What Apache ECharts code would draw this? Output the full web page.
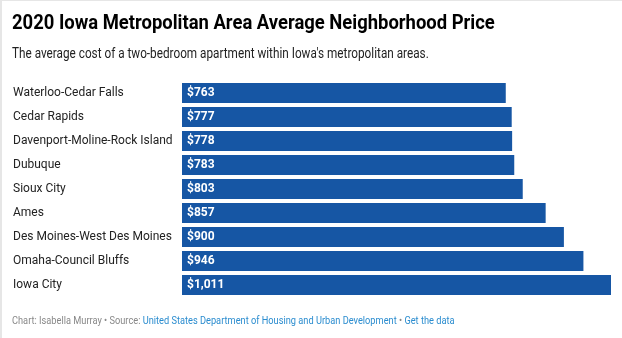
<!DOCTYPE html>
<html><head><meta charset="utf-8">
<script src="https://cdn.jsdelivr.net/npm/echarts@6/dist/echarts.min.js"></script>
<style>
html,body{margin:0;padding:0;background:#fff;}
#wrap{position:absolute;left:0;top:0;width:620px;height:337px;border-left:2px solid #e6e6e6;border-top:1px solid #e6e6e6;}
#c{width:620px;height:337px;}
</style></head>
<body><div id="wrap"><div id="c"></div></div>
<script>
const categories = ["Waterloo-Cedar Falls","Cedar Rapids","Davenport-Moline-Rock Island","Dubuque","Sioux City","Ames","Des Moines-West Des Moines","Omaha-Council Bluffs","Iowa City"];
const prices = [763,777,778,783,803,857,900,946,1011];

const titleText = '2020 Iowa Metropolitan Area Average Neighborhood Price';
const subtitleText = "The average cost of a two-bedroom apartment within Iowa's metropolitan areas.";

const chart = echarts.init(document.getElementById('c'), null, {renderer:'canvas'});
const font = 'Roboto, "Noto Sans", sans-serif';
chart.setOption({
  animation:false,
  textStyle:{fontFamily:font},
  graphic:[
    {type:'text', x:10, y:12, scaleX:0.878, style:{text:titleText, font:'bold 21px '+font, fill:'#000', verticalAlign:'top'}},
    {type:'text', x:10, y:46, scaleX:0.84, style:{text:subtitleText, font:'14px '+font, fill:'#222', verticalAlign:'top'}},
    {type:'text', x:10, y:315, scaleX:0.84, style:{
      text:'{g|Chart: Isabella Murray • Source: }{b|United States Department of Housing and Urban Development}{g| • }{b|Get the data}',
      verticalAlign:'top',
      rich:{
       g:{fontFamily:font,fontSize:11,fontWeight:'normal',fill:'#888'},
       b:{fontFamily:font,fontSize:11,fontWeight:'normal',fill:'#2a8ccf'}}}}
  ],
  grid:{left:180, top:80, width:429, height:216, containLabel:false},
  xAxis:{type:'value', min:0, max:1011, show:false},
  yAxis:{type:'category', data:categories, inverse:true,
    axisLine:{show:false}, axisTick:{show:false},
    axisLabel:{align:'left', margin:169, fontFamily:font, fontSize:12, color:'#222'}},
  series:[{type:'bar', data:prices, barWidth:20, itemStyle:{color:'#1656a4'},
    label:{show:true, position:'insideLeft', distance:5, color:'#fff', fontFamily:font, fontSize:12, fontWeight:'bold',
      formatter:p=>'$'+p.value.toLocaleString('en-US')}}]
});
</script></body></html>
